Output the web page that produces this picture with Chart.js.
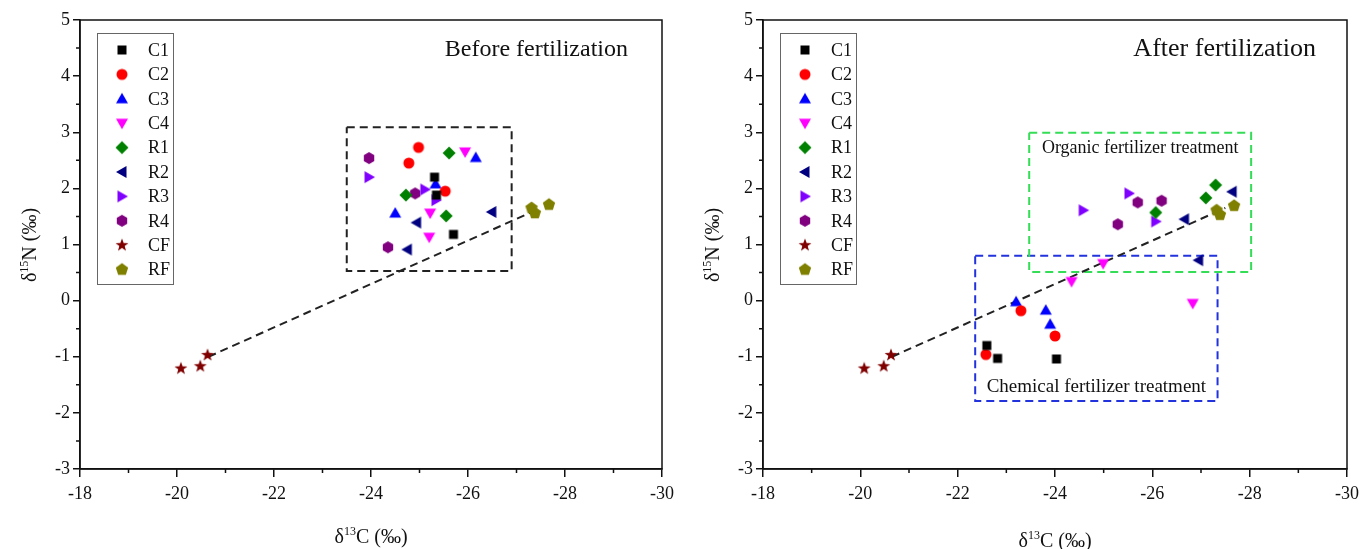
<!DOCTYPE html>
<html>
<head>
<meta charset="utf-8">
<script src="https://cdn.jsdelivr.net/npm/chart.js@4.4.1/dist/chart.umd.min.js"></script>
<style>
html,body{margin:0;padding:0;background:#fff;overflow:hidden}
#wrap{position:relative;width:1365px;height:549px}
canvas{position:absolute;top:0}
#before{left:0}
#after{left:683px}
</style>
</head>
<body>
<div id="wrap">
<canvas id="before" width="683" height="549"></canvas>
<canvas id="after" width="682" height="549"></canvas>
</div>
<script>
// series
const seriesNames = ['C1','C2','C3','C4','R1','R2','R3','R4','CF','RF'];
const seriesColors = ['#000000','#ff0000','#0000ff','#ff00ff','#008000','#000080','#8000ff','#800080','#800000','#808000'];
const seriesShapes = ['square','circle','triangleUp','triangleDown','diamond','triangleLeft','triangleRight','hexagon','star','pentagon'];

// axes
const xRange = [-30, -18];
const yRange = [-3, 5];

// before fertilization: d13C / d15N, one row per series
const beforeD13C = [
  [-25.31, -25.35, -25.70],
  [-24.98, -24.78, -25.53],
  [-26.16, -25.33, -24.50],
  [-25.94, -25.22, -25.20],
  [-25.61, -24.72, -25.55],
  [-26.49, -24.94, -24.75],
  [-23.96, -25.11, -25.34],
  [-23.96, -24.91, -24.35],
  [-20.08, -20.48, -20.63],
  [-27.31, -27.38, -27.67]
];
const beforeD15N = [
  [2.20, 1.88, 1.18],
  [2.73, 2.45, 1.95],
  [2.55, 2.08, 1.56],
  [2.65, 1.56, 1.13],
  [2.63, 1.88, 1.51],
  [1.58, 1.39, 0.91],
  [2.20, 1.98, 1.79],
  [2.54, 1.91, 0.95],
  [-1.21, -1.17, -0.97],
  [1.65, 1.56, 1.71]
];

// after fertilization
const afterD13C = [
  [-22.60, -22.82, -24.03],
  [-23.30, -22.58, -24.00],
  [-23.20, -23.81, -23.90],
  [-24.99, -24.34, -26.83],
  [-27.30, -27.10, -26.07],
  [-27.64, -26.66, -26.95],
  [-24.58, -25.52, -26.07],
  [-25.70, -26.19, -25.29],
  [-20.08, -20.48, -20.63],
  [-27.32, -27.39, -27.68]
];
const afterD15N = [
  [-0.80, -1.03, -1.04],
  [-0.18, -0.96, -0.63],
  [-0.02, -0.17, -0.42],
  [0.66, 0.34, -0.05],
  [2.06, 1.83, 1.57],
  [1.94, 1.45, 0.72],
  [1.61, 1.91, 1.41],
  [1.75, 1.78, 1.36],
  [-1.21, -1.17, -0.97],
  [1.61, 1.53, 1.69]
];

// trend line (d13C, d15N endpoints) and dashed boxes [x1, x2, y1, y2]
const trendD13C = [-20.65, -27.5];
const trendD15N = [-1.0, 1.65];
const beforeBox = [-23.50, -26.90, 3.09, 0.53];
const organicBox = [-23.47, -28.03, 2.99, 0.51];
const chemicalBox = [-22.36, -27.34, 0.80, -1.79];

const serif = '"Liberation Serif", "Times New Roman", serif';

// marker images
function makeMarker(shape, color){
  const c = document.createElement('canvas');
  c.width = c.height = 16;
  const g = c.getContext('2d');
  const m = 8;
  g.fillStyle = color;
  g.beginPath();
  const poly = pts => { pts.forEach((p,i)=> i ? g.lineTo(m+p[0], m+p[1]) : g.moveTo(m+p[0], m+p[1])); g.closePath(); };
  const reg = (n, r) => { const pts=[]; for(let i=0;i<n;i++){ const a=-Math.PI/2+i*2*Math.PI/n; pts.push([r*Math.cos(a), r*Math.sin(a)]); } poly(pts); };
  switch(shape){
    case 'square': g.rect(m-4.5, m-4.5, 9, 9); break;
    case 'circle': g.arc(m, m, 5.5, 0, 2*Math.PI); break;
    case 'triangleUp': poly([[0,-6],[6,4.5],[-6,4.5]]); break;
    case 'triangleDown': poly([[0,6],[6,-4.5],[-6,-4.5]]); break;
    case 'diamond': poly([[0,-6.5],[6.5,0],[0,6.5],[-6.5,0]]); break;
    case 'triangleLeft': poly([[-6,0],[4.5,-6],[4.5,6]]); break;
    case 'triangleRight': poly([[6,0],[-4.5,-6],[-4.5,6]]); break;
    case 'hexagon': reg(6, 6); break;
    case 'pentagon': reg(5, 6.5); break;
    case 'star': {
      const pts=[];
      for(let i=0;i<10;i++){ const r=i%2?2.8:6.8; const a=-Math.PI/2+i*Math.PI/5; pts.push([r*Math.cos(a), r*Math.sin(a)]); }
      poly(pts); break;
    }
  }
  g.fill();
  return c;
}
const markers = seriesShapes.map((s,i)=>makeMarker(s, seriesColors[i]));

// text with a superscript part
function drawSup(ctx, parts, cx, cy, size){
  const big = size + 'px ' + serif, small = Math.round(size*0.6) + 'px ' + serif;
  let w = 0;
  parts.forEach(p=>{ ctx.font = p[1] ? small : big; w += ctx.measureText(p[0]).width; });
  let x = cx - w/2;
  ctx.textAlign = 'left';
  ctx.textBaseline = 'alphabetic';
  parts.forEach(p=>{
    ctx.font = p[1] ? small : big;
    ctx.fillText(p[0], x, p[1] ? cy - size*0.42 : cy);
    x += ctx.measureText(p[0]).width;
  });
}

const decorPlugin = {
  id: 'panelDecor',
  afterDraw(chart, args, opts){
    const {ctx, chartArea: a} = chart;
    const xs = chart.scales.x, ys = chart.scales.y;
    ctx.save();
    ctx.strokeStyle = '#111';
    ctx.lineWidth = 1.5;
    ctx.strokeRect(a.left, a.top, a.right - a.left, a.bottom - a.top);
    // minor ticks
    ctx.beginPath();
    for(let v = xRange[0] + 1; v < xRange[1]; v += 2){ const px = xs.getPixelForValue(v); ctx.moveTo(px, a.bottom); ctx.lineTo(px, a.bottom + 4); }
    for(let v = yRange[0] + 0.5; v < yRange[1]; v += 1){ const py = ys.getPixelForValue(v); ctx.moveTo(a.left, py); ctx.lineTo(a.left - 4, py); }
    ctx.stroke();

    // legend
    const lx = a.left + 17, ly = a.top + 13;
    ctx.strokeStyle = '#666';
    ctx.lineWidth = 1;
    ctx.strokeRect(lx + 0.5, ly + 0.5, 76, 251);
    ctx.font = '18px ' + serif;
    ctx.fillStyle = '#111';
    ctx.textAlign = 'left';
    ctx.textBaseline = 'middle';
    seriesNames.forEach((name,i)=>{
      const cy = ly + 17 + i*24.4;
      const mk = markers[i];
      ctx.drawImage(mk, lx + 25 - mk.width/2, cy - mk.height/2);
      ctx.fillText(name, lx + 51, cy + 1);
    });

    // panel title
    ctx.font = opts.titleSize + 'px ' + serif;
    ctx.textAlign = 'right';
    ctx.textBaseline = 'alphabetic';
    ctx.fillText(opts.title, a.right - opts.titleRight, 56);

    // notes placed in data units
    (opts.notes || []).forEach(n=>{
      ctx.font = n.size + 'px ' + serif;
      ctx.textAlign = 'center';
      ctx.textBaseline = 'middle';
      ctx.fillText(n.text, xs.getPixelForValue(n.x), ys.getPixelForValue(n.y));
    });

    // axis titles
    drawSup(ctx, [['δ',false],['13',true],['C (‰)',false]], (a.left + a.right)/2, opts.xTitleY, 20);
    ctx.save();
    ctx.translate(a.left - 44, 245);
    ctx.rotate(-Math.PI/2);
    drawSup(ctx, [['δ',false],['15',true],['N (‰)',false]], 0, 0, 20);
    ctx.restore();
    ctx.restore();
  }
};

function boxPoints(b){
  return [{x:b[0],y:b[2]},{x:b[1],y:b[2]},{x:b[1],y:b[3]},{x:b[0],y:b[3]},{x:b[0],y:b[2]}];
}
function dashed(points, color){
  return { data: points, showLine: true, borderColor: color, borderWidth: 2, borderDash: [8,5], pointRadius: 0, fill: false };
}

function buildChart(id, d13C, d15N, boxes, deco){
  const datasets = seriesNames.map((name,i)=>({
    label: name,
    data: d13C[i].map((x,j)=>({x, y: d15N[i][j]})),
    pointStyle: markers[i],
    pointRadius: 6,
    showLine: false
  }));
  datasets.push(dashed(trendD13C.map((x,j)=>({x, y: trendD15N[j]})), '#222'));
  boxes.forEach(b=>datasets.push(dashed(boxPoints(b.box), b.color)));

  const tickFont = {family: serif, size: 18};
  new Chart(document.getElementById(id), {
    type: 'scatter',
    data: {datasets},
    options: {
      responsive: false,
      animation: false,
      events: [],
      layout: {padding: {top: 20, right: deco.padRight, bottom: 0, left: 0}},
      plugins: {legend: {display: false}, tooltip: {enabled: false}, panelDecor: deco},
      scales: {
        x: {
          type: 'linear', reverse: true, min: xRange[0], max: xRange[1],
          ticks: {stepSize: 2, color: '#111', font: tickFont, padding: 6, maxRotation: 0},
          grid: {drawOnChartArea: false, color: '#111', lineWidth: 1.5, tickLength: 8},
          border: {display: true, color: '#111', width: 1.5},
          afterFit: s => { s.height = 80; }
        },
        y: {
          type: 'linear', min: yRange[0], max: yRange[1],
          ticks: {stepSize: 1, color: '#111', font: tickFont, padding: 3},
          grid: {drawOnChartArea: false, color: '#111', lineWidth: 1.5, tickLength: 7},
          border: {display: true, color: '#111', width: 1.5},
          afterFit: s => { s.width = 80; }
        }
      }
    },
    plugins: [decorPlugin]
  });
}

buildChart('before', beforeD13C, beforeD15N, [{box: beforeBox, color: '#222'}], {
  title: 'Before fertilization', titleSize: 24, titleRight: 34, xTitleY: 543, padRight: 21, notes: []
});
buildChart('after', afterD13C, afterD15N, [{box: organicBox, color: '#33dd55'}, {box: chemicalBox, color: '#2233dd'}], {
  title: 'After fertilization', titleSize: 26, titleRight: 31, xTitleY: 547, padRight: 16,
  notes: [
    {text: 'Organic fertilizer treatment', x: -25.75, y: 2.72, size: 18},
    {text: 'Chemical fertilizer treatment', x: -24.85, y: -1.54, size: 19}
  ]
});
</script>
</body>
</html>
